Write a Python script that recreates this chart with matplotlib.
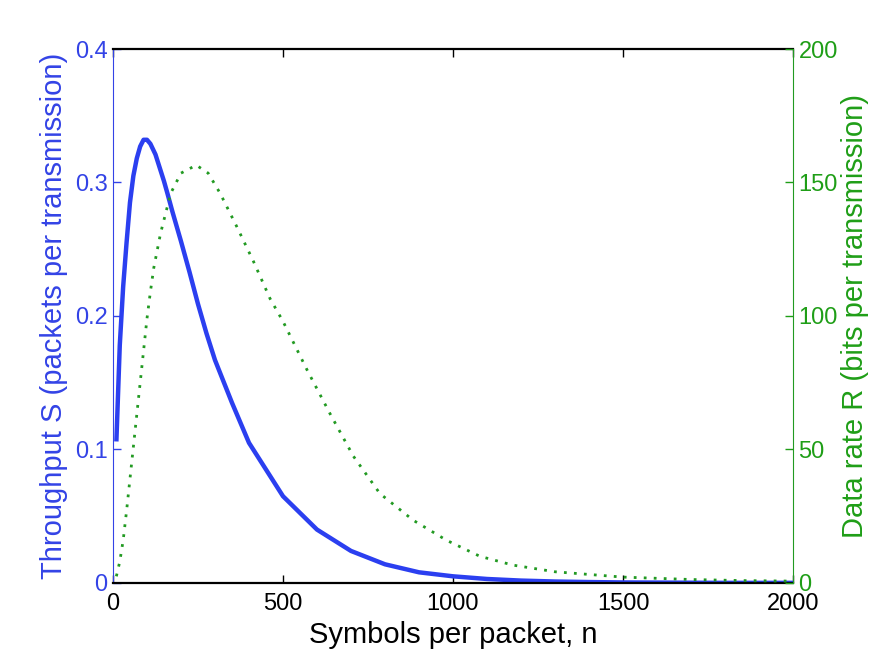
import numpy as np
import matplotlib
matplotlib.use('Agg')
import matplotlib.pyplot as plt

plt.rcParams['font.family'] = ['Liberation Sans', 'DejaVu Sans']

# throughput S (packets per transmission)
n_s = [10, 20, 30, 40, 50, 60, 70, 80, 90, 100, 110, 125, 140, 150, 160, 175, 200, 225,
       250, 275, 300, 350, 400, 500, 600, 700, 800, 900, 1000, 1100, 1200, 1300, 1400,
       1500, 1600, 1700, 1800, 1900, 2000]
s_vals = [0.106, 0.178, 0.222, 0.255, 0.285, 0.305, 0.318, 0.327, 0.332, 0.332, 0.329,
          0.321, 0.309, 0.301, 0.292, 0.278, 0.256, 0.233, 0.209, 0.187, 0.167, 0.135,
          0.105, 0.065, 0.040, 0.024, 0.014, 0.008, 0.005, 0.003, 0.0018, 0.0011,
          0.0007, 0.0004, 0.0003, 0.0002, 0.0001, 0.0001, 0.0001]

# data rate R (bits per transmission)
n_r = [10, 20, 30, 40, 50, 60, 70, 80, 90, 100, 110, 120, 140, 170, 200, 245, 280, 315,
       364, 413, 462, 500, 570, 638, 707, 785, 883, 981, 1079, 1176, 1300, 1500, 1700,
       1850, 2000]
r_vals = [2.5, 8, 16, 27, 39, 51, 63, 75, 87, 99, 109, 118, 131, 146, 153.5, 156.5,
          153.5, 146, 133.5, 120.5, 106.5, 98, 80, 63.5, 47.5, 33.5, 23.5, 16, 10, 6.7,
          4.2, 2.2, 1.3, 0.9, 0.7]

blue = '#2b3ff0'
blue_txt = '#3343e6'
green = '#229a22'
green_txt = '#1f9e17'

fig = plt.figure(figsize=(8.73, 6.56), dpi=100)
ax1 = fig.add_axes([0.1294, 0.1113, 0.7790, 0.8140])
ax2 = ax1.twinx()

ax1.plot(n_s, s_vals, color=blue, lw=3.2, solid_capstyle='butt')
ax2.plot(n_r, r_vals, color=green, lw=2.0, linestyle=(0, (1.0, 2.6)))

ax1.set_xlim(0, 2000)
ax1.set_ylim(0, 0.4)
ax2.set_ylim(0, 200)
ax1.set_xticks([0, 500, 1000, 1500, 2000])
ax1.set_yticks([0, 0.1, 0.2, 0.3, 0.4])
ax1.set_yticklabels(['0', '0.1', '0.2', '0.3', '0.4'])
ax2.set_yticks([0, 50, 100, 150, 200])

ax1.tick_params(axis='x', direction='in', length=6, width=1, pad=7.5,
                labelsize=17, colors='black', top=True)
ax1.tick_params(axis='y', direction='in', length=6, width=1, pad=4,
                labelsize=17, colors=blue_txt)
ax2.tick_params(axis='y', direction='in', length=6, width=1, pad=4,
                labelsize=17, colors=green_txt)

ax1.spines['left'].set_color(blue_txt)
ax1.spines['right'].set_visible(False)
ax2.spines['left'].set_visible(False)
ax2.spines['right'].set_color(green)
for sp in ['top', 'bottom']:
    ax1.spines[sp].set_color('black')
    ax1.spines[sp].set_linewidth(1.6)
    ax2.spines[sp].set_visible(False)

ax1.set_xlabel('Symbols per packet, n', fontsize=21, labelpad=4)
ax1.set_ylabel('Throughput S (packets per transmission)', fontsize=21,
               color=blue_txt, labelpad=4.5)
ax2.set_ylabel('Data rate R (bits per transmission)', fontsize=21,
               color=green_txt, labelpad=2)

fig.savefig('out.png', dpi=100)
